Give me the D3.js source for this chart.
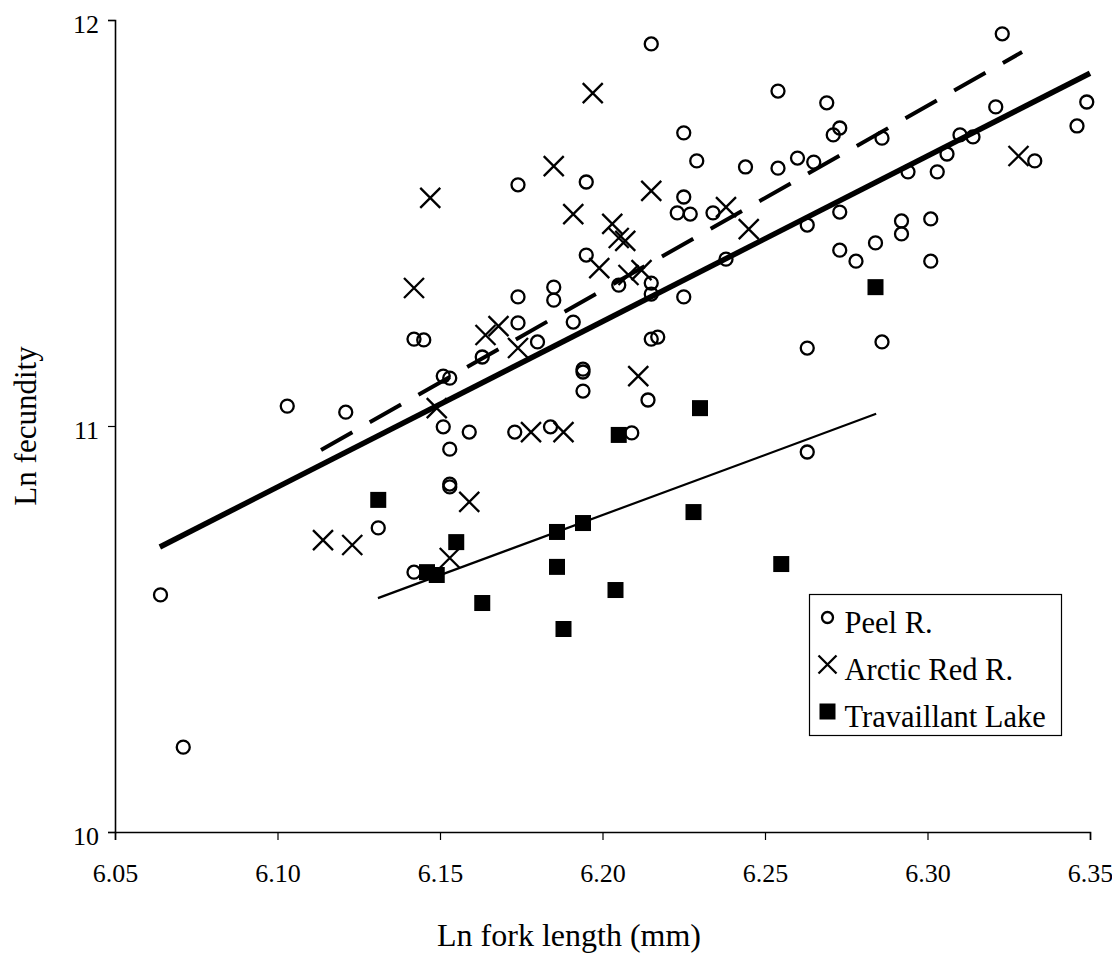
<!DOCTYPE html>
<html>
<head>
<meta charset="utf-8">
<script src="https://cdn.jsdelivr.net/npm/d3@7"></script>
<style>
  body { margin: 0; background: #fff; }
  text { font-family: "Liberation Serif", "Times New Roman", serif; fill: #000; }
</style>
</head>
<body>
<svg id="chart"></svg>
<script>
const width = 1112;
const height = 961;

// Peel R. (circles)
const peelX = [6.064, 6.071, 6.103, 6.121, 6.142, 6.145, 6.151, 6.153, 6.163, 6.174, 6.174, 6.174, 6.151, 6.153, 6.153, 6.153, 6.159, 6.173, 6.131, 6.142,
    6.215, 6.254, 6.225, 6.229, 6.244, 6.254, 6.260, 6.265, 6.195, 6.225, 6.223, 6.227, 6.234, 6.263, 6.195, 6.205, 6.215, 6.215, 6.238, 6.225,
    6.185, 6.185, 6.191, 6.180, 6.215, 6.217, 6.263, 6.194, 6.194, 6.194, 6.214, 6.184, 6.209, 6.263,
    6.323, 6.269, 6.273, 6.271, 6.286, 6.321, 6.349, 6.346, 6.310, 6.314, 6.306, 6.333, 6.294, 6.303, 6.273, 6.292, 6.292, 6.301, 6.273, 6.284,
    6.278, 6.301, 6.286];
const peelY = [10.584, 10.209, 11.049, 11.034, 11.214, 11.212, 11.123, 11.118, 11.170, 11.594, 11.318, 11.254, 10.998, 10.943, 10.857, 10.850, 10.985, 10.985, 10.749, 10.640,
    11.941, 11.825, 11.722, 11.653, 11.638, 11.635, 11.660, 11.650, 11.601, 11.564, 11.525, 11.522, 11.525, 11.495, 11.421, 11.347, 11.352, 11.325, 11.411, 11.318,
    11.342, 11.310, 11.256, 11.207, 11.214, 11.219, 11.192, 11.140, 11.133, 11.086, 11.064, 10.998, 10.983, 10.936,
    11.966, 11.796, 11.734, 11.717, 11.709, 11.786, 11.798, 11.739, 11.717, 11.712, 11.670, 11.653, 11.626, 11.626, 11.527, 11.505, 11.473, 11.510, 11.433, 11.451,
    11.406, 11.406, 11.207];

// Arctic Red R. (crosses)
const arcticX = [6.147, 6.142, 6.164, 6.168, 6.174, 6.149, 6.197, 6.185, 6.215, 6.191, 6.203, 6.205, 6.207, 6.199, 6.208, 6.212, 6.238, 6.245, 6.211, 6.328,
    6.178, 6.188, 6.114, 6.123, 6.159, 6.153];
const arcticY = [11.562, 11.340, 11.224, 11.246, 11.192, 11.044, 11.820, 11.640, 11.579, 11.522, 11.498, 11.463, 11.456, 11.389, 11.372, 11.384, 11.539, 11.485, 11.123, 11.665,
    10.985, 10.985, 10.719, 10.707, 10.813, 10.675];

// Travaillant Lake (filled squares)
const travX = [6.131, 6.155, 6.146, 6.149, 6.163, 6.186, 6.194, 6.186, 6.204, 6.188, 6.228, 6.230, 6.205, 6.255, 6.284];
const travY = [10.818, 10.714, 10.640, 10.633, 10.564, 10.739, 10.761, 10.653, 10.596, 10.500, 10.788, 11.044, 10.978, 10.660, 11.342];

// fitted lines, end points
const peelFitX = [6.0638, 6.35];
const peelFitY = [10.702, 11.869];
const arcticFitX = [6.1134, 6.3291];
const arcticFitY = [10.941, 11.921];
const travFitX = [6.1309, 6.2842];
const travFitY = [10.576, 11.030];

const xTicks = [6.05, 6.10, 6.15, 6.20, 6.25, 6.30, 6.35];
const yTicks = [10, 11, 12];
const legendLabels = ['Peel R.', 'Arctic Red R.', 'Travaillant Lake'];

const svg = d3.select('#chart')
    .attr('width', width)
    .attr('height', height);

svg.append('rect').attr('width', width).attr('height', height).attr('fill', '#fff');

const x = d3.scaleLinear().domain([6.05, 6.35]).range([115, 1090]);
const y = d3.scaleLinear().domain([10, 12]).range([832, 20]);

// axes
const xAxis = d3.axisBottom(x).tickValues(xTicks).tickFormat(d3.format('.2f')).tickSizeOuter(0).tickSize(8).tickPadding(24);
const yAxis = d3.axisLeft(y).tickValues(yTicks).tickFormat(d3.format('d')).tickSizeOuter(0).tickSize(7).tickPadding(9);

const gx = svg.append('g')
    .attr('transform', `translate(0,${y(10)})`)
    .call(xAxis);
gx.select('.domain').attr('stroke-width', 1.6);
gx.selectAll('.tick line').attr('stroke-width', 1.2);
gx.selectAll('text').style('font-size', '26px').attr('font-family', null);

const gy = svg.append('g')
    .attr('transform', `translate(${x(6.05)},0)`)
    .call(yAxis);
gy.select('.domain').attr('stroke-width', 1.6);
gy.selectAll('.tick line').attr('stroke-width', 1.2);
gy.selectAll('text').style('font-size', '26px').attr('font-family', null).attr('dy', '0.48em');

svg.append('text')
    .attr('x', 569)
    .attr('y', 946)
    .attr('text-anchor', 'middle')
    .style('font-size', '32px')
    .text('Ln fork length (mm)');

svg.append('text')
    .attr('transform', 'translate(36,426) rotate(-90)')
    .attr('text-anchor', 'middle')
    .style('font-size', '31px')
    .text('Ln fecundity');

// fitted lines
const line = d3.line().x(d => x(d[0])).y(d => y(d[1]));
svg.append('path')
    .datum(d3.zip(peelFitX, peelFitY))
    .attr('d', line)
    .attr('stroke', '#000').attr('stroke-width', 5.5).attr('fill', 'none');
svg.append('path')
    .datum(d3.zip(arcticFitX, arcticFitY))
    .attr('d', line)
    .attr('stroke', '#000').attr('stroke-width', 4).attr('fill', 'none')
    .attr('stroke-dasharray', '36,20');
svg.append('path')
    .datum(d3.zip(travFitX, travFitY))
    .attr('d', line)
    .attr('stroke', '#000').attr('stroke-width', 2.2).attr('fill', 'none');

// markers
const crossPath = s => `M${-s},${-s}L${s},${s}M${-s},${s}L${s},${-s}`;

svg.append('g').selectAll('circle')
    .data(d3.zip(peelX, peelY))
    .enter()
    .append('circle')
    .attr('cx', d => x(d[0]))
    .attr('cy', d => y(d[1]))
    .attr('r', 6.5)
    .attr('fill', 'none')
    .attr('stroke', '#000')
    .attr('stroke-width', 2.3);

svg.append('g').selectAll('path')
    .data(d3.zip(arcticX, arcticY))
    .enter()
    .append('path')
    .attr('transform', d => `translate(${x(d[0])},${y(d[1])})`)
    .attr('d', crossPath(10))
    .attr('stroke', '#000')
    .attr('stroke-width', 2.3);

svg.append('g').selectAll('rect')
    .data(d3.zip(travX, travY))
    .enter()
    .append('rect')
    .attr('x', d => x(d[0]) - 8)
    .attr('y', d => y(d[1]) - 8)
    .attr('width', 16)
    .attr('height', 16)
    .attr('fill', '#000');

// legend
const legend = svg.append('g').attr('transform', 'translate(809.5,594.5)');
legend.append('rect')
    .attr('width', 252).attr('height', 141)
    .attr('fill', '#fff').attr('stroke', '#000').attr('stroke-width', 1.2);

const rows = legend.selectAll('g.row')
    .data(legendLabels)
    .enter()
    .append('g')
    .attr('class', 'row')
    .attr('transform', (d, i) => `translate(18,${23 + i * 47})`);

rows.append('text')
    .attr('x', 17)
    .attr('y', 15)
    .style('font-size', '30.5px')
    .text(d => d);

rows.each(function (d, i) {
    const g = d3.select(this);
    if (i === 0) {
        g.append('circle').attr('r', 5.5).attr('fill', 'none').attr('stroke', '#000').attr('stroke-width', 2.3);
    } else if (i === 1) {
        g.append('path').attr('d', crossPath(9)).attr('stroke', '#000').attr('stroke-width', 2.3);
    } else {
        g.append('rect').attr('x', -8).attr('y', -8).attr('width', 16).attr('height', 16).attr('fill', '#000');
    }
});
</script>
</body>
</html>
